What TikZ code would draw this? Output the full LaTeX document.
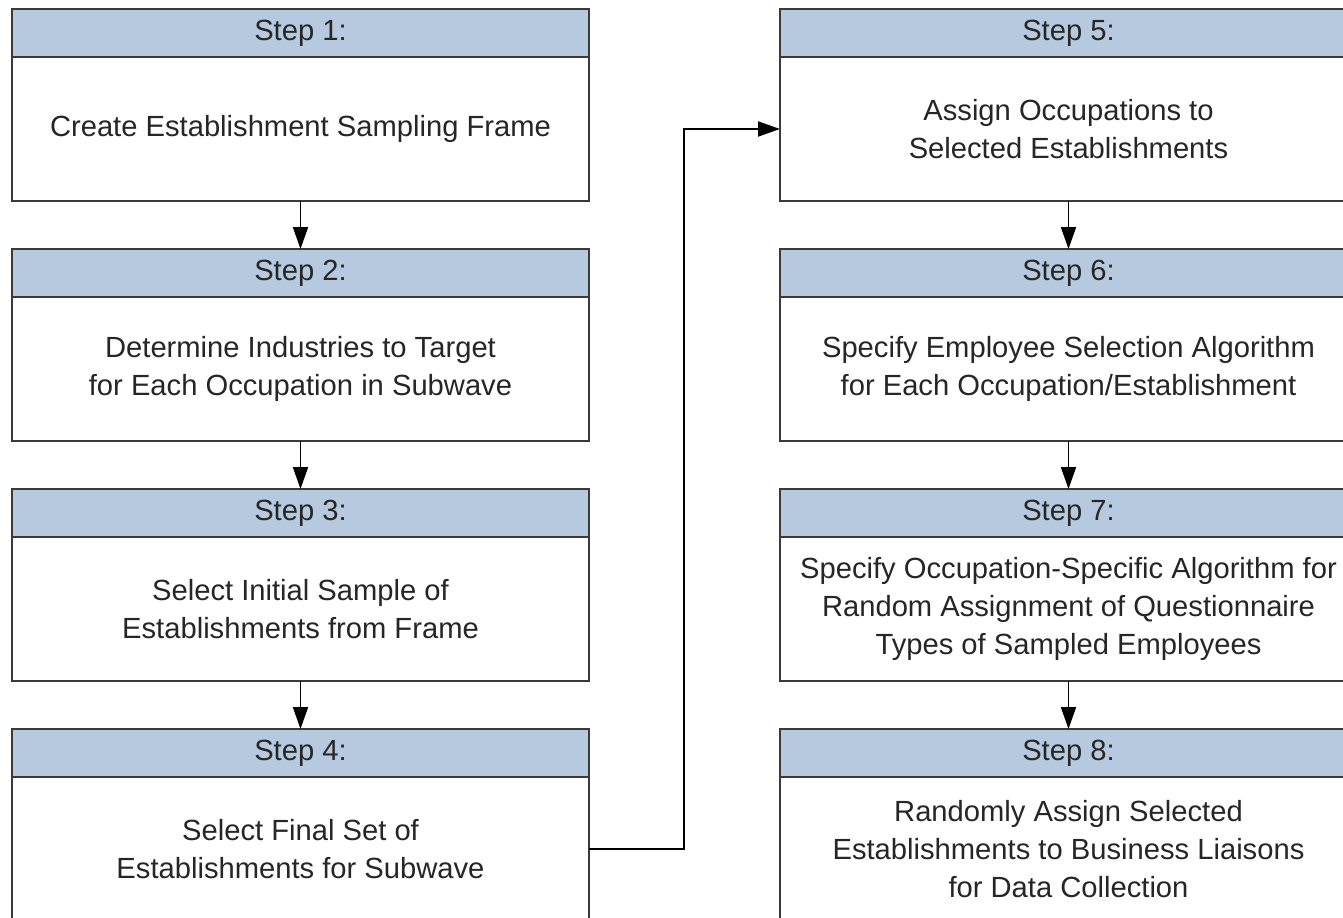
\documentclass[tikz,border=0pt]{standalone}
\usepackage{fontspec}
\setmainfont{Liberation Sans}
\usetikzlibrary{arrows.meta, positioning}
\definecolor{ink}{HTML}{262626}
\definecolor{frame}{HTML}{3A3A3A}
\definecolor{hdrfill}{HTML}{B7C9DF}
\tikzset{
  hdr/.style={draw=frame, fill=hdrfill, line width=1.2pt, outer sep=0pt,
              minimum width=11.54cm, minimum height=0.96cm, inner sep=0pt,
              font=\fontsize{16.6}{21.5}\selectfont, text=ink},
  stepbody/.style={draw=frame, fill=white, line width=1.2pt, outer sep=0pt,
                   minimum width=11.54cm, minimum height=2.88cm, inner sep=0pt},
  steptext/.style={align=center, font=\fontsize{16.6}{21.5}\selectfont, text=ink},
  fl/.style={-{Triangle[length=0.44cm, width=0.3cm]}, line width=1.1pt, draw=black},
}

\begin{document}
\begin{tikzpicture}[node distance=0.96cm]
  \path[use as bounding box] (0,0) rectangle (26.86,-18.36);
  \clip (0,0) rectangle (26.86,-18.36);

  % left column
  \node[hdr, anchor=north west] (h1) at (0.24,-0.18) {Step 1:};
  \node[stepbody, below=0pt of h1] (b1) {};
  \node[steptext] (t1) at (b1) {Create Establishment Sampling Frame};
  \node[hdr, below=of b1] (h2) {Step 2:};
  \node[stepbody, below=0pt of h2] (b2) {};
  \node[steptext] (t2) at (b2) {Determine Industries to Target\\for Each Occupation in Subwave};
  \node[hdr, below=of b2] (h3) {Step 3:};
  \node[stepbody, below=0pt of h3] (b3) {};
  \node[steptext] (t3) at (b3) {Select Initial Sample of\\Establishments from Frame};
  \node[hdr, below=of b3] (h4) {Step 4:};
  \node[stepbody, below=0pt of h4] (b4) {};
  \node[steptext] (t4) at (b4) {Select Final Set of\\Establishments for Subwave};

  % right column
  \node[hdr, anchor=north west] (h5) at (15.6,-0.18) {Step 5:};
  \node[stepbody, below=0pt of h5] (b5) {};
  \node[steptext] (t5) at (b5) {Assign Occupations to\\Selected Establishments};
  \node[hdr, below=of b5] (h6) {Step 6:};
  \node[stepbody, below=0pt of h6] (b6) {};
  \node[steptext] (t6) at (b6) {Specify Employee Selection Algorithm\\for Each Occupation/Establishment};
  \node[hdr, below=of b6] (h7) {Step 7:};
  \node[stepbody, below=0pt of h7] (b7) {};
  \node[steptext] (t7) at (b7) {Specify Occupation-Specific Algorithm for\\Random Assignment of Questionnaire\\Types of Sampled Employees};
  \node[hdr, below=of b7] (h8) {Step 8:};
  \node[stepbody, below=0pt of h8] (b8) {};
  \node[steptext] (t8) at (b8) {Randomly Assign Selected\\Establishments to Business Liaisons\\for Data Collection};

  \draw[fl] (b1.south) -- (h2.north);
  \draw[fl] (b2.south) -- (h3.north);
  \draw[fl] (b3.south) -- (h4.north);
  \draw[fl] (b4.east) -- ++(1.9,0) |- (b5.west);
  \draw[fl] (b5.south) -- (h6.north);
  \draw[fl] (b6.south) -- (h7.north);
  \draw[fl] (b7.south) -- (h8.north);
\end{tikzpicture}
\end{document}
